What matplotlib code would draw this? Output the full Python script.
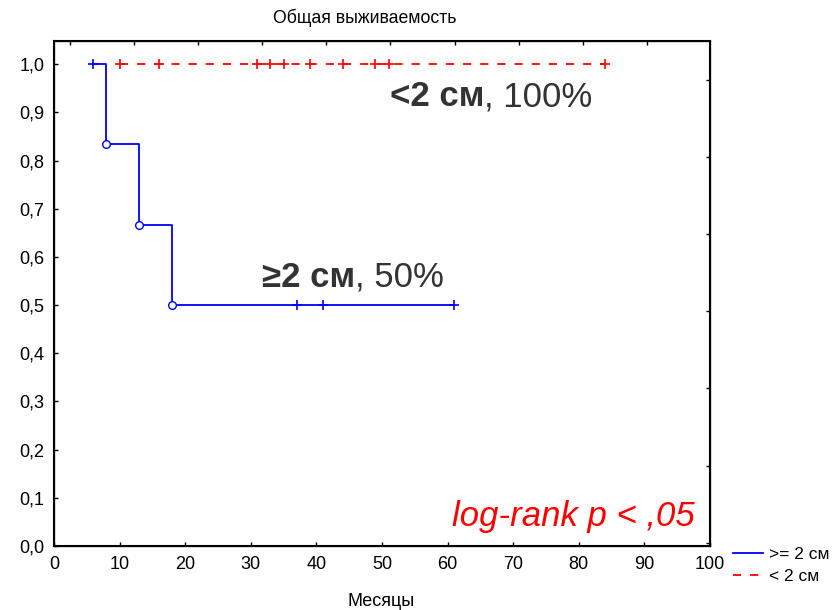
import matplotlib
matplotlib.use("Agg")
import matplotlib.pyplot as plt
from matplotlib.lines import Line2D

plt.rcParams["font.family"] = ["Liberation Sans", "DejaVu Sans"]

# Group ">= 2 cm": Kaplan-Meier steps
big_step_t = [6, 8, 13, 18, 61]
big_step_s = [1.0, 0.8333, 0.6667, 0.5, 0.5]
big_event_t = [8, 13, 18]
big_event_s = [0.8333, 0.6667, 0.5]
big_cens_t = [6, 37, 41, 61]
big_cens_s = [1.0, 0.5, 0.5, 0.5]

# Group "< 2 cm": nobody died, only censored points
small_cens_t = [10, 16, 31, 33, 35, 39, 44, 49, 51, 84]
small_cens_s = [1.0] * len(small_cens_t)

x_ticks = [0, 10, 20, 30, 40, 50, 60, 70, 80, 90, 100]
y_ticks = [0.0, 0.1, 0.2, 0.3, 0.4, 0.5, 0.6, 0.7, 0.8, 0.9, 1.0]
y_labels = ["0,0", "0,1", "0,2", "0,3", "0,4", "0,5", "0,6", "0,7", "0,8", "0,9", "1,0"]

fig = plt.figure(figsize=(8.36, 6.1), dpi=100)
ax = fig.add_axes([54 / 836, 64 / 610, 656 / 836, 505 / 610])

blue = "#0000ff"
red = "#ff0000"

ax.step(big_step_t, big_step_s, where="post", color=blue, lw=1.3)
ax.plot(big_event_t, big_event_s, "o", ms=5.5, mfc="white", mec=blue, mew=1.0)
ax.plot(big_cens_t, big_cens_s, "+", ms=7, color=blue, mew=1.2)

ax.plot([small_cens_t[0], small_cens_t[-1]], [1.0, 1.0], color=red, lw=1.3,
        dashes=(4.5, 5))
ax.plot(small_cens_t, small_cens_s, "+", ms=7, color=red, mew=1.2)

ax.set_xlim(0, 100)
ax.set_ylim(0, 1.048)
ax.set_xticks(x_ticks)
ax.set_yticks(y_ticks)
ax.set_yticklabels(y_labels)
ax.tick_params(direction="in", length=3, width=1, labelsize=13, pad=7)
for s in ax.spines.values():
    s.set_linewidth(1.5)

# extra tick marks on top and right (separate scales in the original)
axt = ax.twiny()
axt.set_xlim(0, 100)
axt.set_xticks([2.44 + 9.77 * k for k in range(10)])
axt.set_xticklabels([])
axt.tick_params(direction="in", length=3, width=1)
axr = ax.twinx()
axr.set_ylim(0, 1.048)
axr.set_yticks([0.967 - 0.16 * k for k in range(7)])
axr.set_yticklabels([])
axr.tick_params(direction="in", length=3, width=1)

# group annotations
txt_col = "#333333"
t1 = ax.text(51.2, 0.932, "<2 см", fontsize=25, fontweight="bold", color=txt_col,
             va="center", ha="left")
ax.annotate(", 100%", xy=(1, 0), xycoords=t1, va="bottom", ha="left",
            fontsize=25, color=txt_col)
t2 = ax.text(31.7, 0.558, "≥2 см", fontsize=25, fontweight="bold", color=txt_col,
             va="center", ha="left")
ax.annotate(", 50%", xy=(1, 0), xycoords=t2, va="bottom", ha="left",
            fontsize=25, color=txt_col)

ax.text(97.7, 0.062, "log-rank p < ,05", fontsize=25, style="italic", color=red,
        ha="right", va="center")

fig.text(365 / 836, 1 - 18 / 610, "Общая выживаемость", fontsize=12.7,
         ha="center", va="center")
fig.text(381 / 836, 1 - 602 / 610, "Месяцы", fontsize=13, ha="center", va="center")

handles = [Line2D([], [], color=blue, lw=1.3),
           Line2D([], [], color=red, lw=1.3, dashes=(4.5, 5))]
fig.legend(handles, [">= 2 см", "< 2 см"], loc="upper left",
           bbox_to_anchor=(724 / 836, 1 - 538 / 610), frameon=False,
           fontsize=12.5, handlelength=1.75, handletextpad=0.35,
           labelspacing=0.4, borderpad=0)

fig.savefig("out.png", dpi=100)
